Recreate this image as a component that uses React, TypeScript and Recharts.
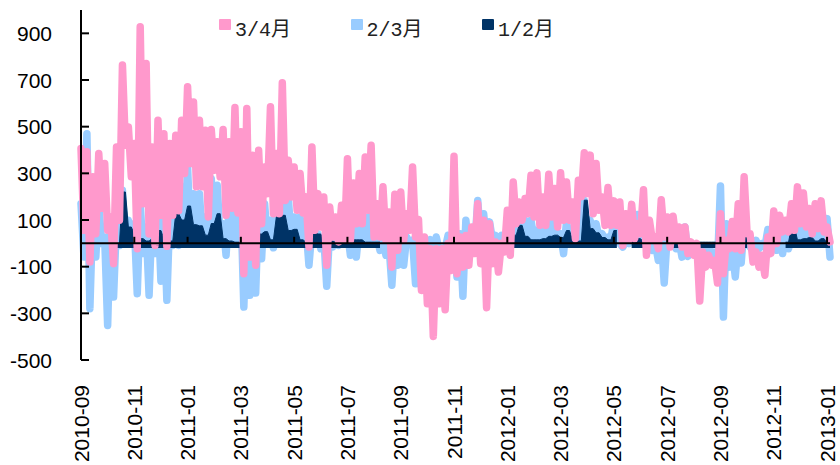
import React from 'react';
import { ComposedChart, Line, Area, XAxis, YAxis, ReferenceLine } from 'recharts';

const months = [
  '2010-09', '2010-11', '2011-01', '2011-03', '2011-05', '2011-07', '2011-09', '2011-11',
  '2012-01', '2012-03', '2012-05', '2012-07', '2012-09', '2012-11', '2013-01',
];
const yTicks = [-500, -300, -100, 100, 300, 500, 700, 900];

// each week: highest and lowest spread
const pinkHigh = [
  406, 392, 285, 385, 342, 113, 413, 764, 499, 428, 928, 771, 413, 528, 470, 428, 463, 528, 671, 606, 528, 485, 488, 435, 488, 435,
  582, 478, 578, 378, 399, 327, 585, 385, 688, 356, 327, 299, 199, 413, 213, 199, 156, 113, 163, 363,
  259, 299, 370, 420, 170, 242, 134, 210, 220, 127, 327, 102, 27, -23, -23, -23, 0, 373, 27, 34, 70, 170, 99, 84, 6, 0, 142,
  263, 177, 192, 292, 302, 199, 296, 235, 302, 263, 177, 270, 388, 378, 342, 199, 239, 182, 177, 127, 167, 84, 230, 99, 27, 187,
  113, 116, 70, 70, 6, 0, -37, -51, -73, 127, 13, 94, 170, 285, 41, -37, -51, 27, 139, 120, 99, 170, 242, 216, 149, 170, 182, 70,
];
const pinkLow = [
  56, -80, 41, 150, 56, -87, 99, 420, 285, -23, 170, 40, -9, 120, -13, 120, 140, 299, 342, 242, 242, 113, 313, 285, 120, 150,
  130, -130, -59, -94, 84, 213, 127, 127, 184, 199, 142, 130, -16, 56, 70, -94, 27, 6, 13, 13,
  84, 84, 142, 27, 27, 13, -102, -30, 13, 56, 27, -202, -259, -399, -259, -285, -116, -130, -102, -94, -44, -87, -276, -87, -123, -37, -51,
  84, 99, 127, 113, 77, 77, 113, 70, 99, 99, 20, 200, 213, 127, 142, 77, 77, 77, -9, 13, 20, 41, -51, 13, -23, 27,
  -16, 13, -16, -44, -51, -247, -102, -94, -170, -130, -23, -23, -30, 41, -80, -102, -137, -44, -1, 49, 49, 56, 84, 70, 41, 63, 49, 6,
];
const blueHigh = [
  170, 470, 142, 170, 27, 113, 99, 227, 99, 84, 170, 70, 113, 156, 142, 134, 270, 242, 327, 213, 213, 113, 277, 249, 84, 142,
  127, 170, 142, 113, 170, 170, 99, 170, 199, 199, 113, 113, 70, 56, 41, 27, 56, 27, 56, 56,
  56, 70, 113, 127, 27, 13, -1, 27, 56, 27, 13, -1, -16, 16, 27, -23, 34, 41, 41, 99, 56, 184, 127, 92, 34, 34, 56,
  84, 120, 99, 99, 56, 56, 92, 92, 41, 92, 49, 27, 184, 99, 84, 41, 27, 92, -1, 6, 27, 124, 41, 20, -1, 27,
  27, 6, 13, 70, -1, -4, -16, -19, -51, 246, 84, -23, 6, 84, -16, 13, -1, 59, 84, 56, 70, 41, 92, 70, 56, 56, 106, 106,
];
const blueLow = [
  -59, -280, -59, -1, -352, -230, -9, 20, 20, -216, -44, -223, -44, -162, -244, -9, -9, 20, 20, 20, 20, 20, 20, 20, -51, 13,
  13, -273, -223, -213, -66, 13, -19, 6, 20, 20, 13, 13, -94, 20, -23, -184, -16, -9, -4, -51,
  -59, -1, -1, 13, -30, -51, -180, -94, -94, -1, -173, -187, -30, -30, -30, -23, -59, -144, -227, -30, -16, 13, -1, 13, 13, -1, -1,
  13, 20, 20, 20, 20, 20, 20, 13, -44, 20, 20, 20, 20, 20, 20, 20, 20, 13, -16, -1, 13, 20, 6, -30, -73, -170,
  -9, -23, -59, -56, -30, -59, -44, -37, -94, -316, -102, -144, -84, -1, -30, -23, -16, -1, -30, -44, -23, 6, 6, 6, 6, 13, 6, -59,
];
const navy = [
  null, null, null, null, null, null, 0, 220, 70, 40, 20, 10, 20, 55, 20, 10, 127, 100, 160, 80, 75, 35, 85, 127, 20, 10,
  5, 5, 5, 10, 40, 50, 15, 115, 120, 55, 60, 15, 5, 50, 40, 5, 10, 5, 15, 20,
  15, 15, 5, 5, 5, null, null, null, null, null, null, null, null, null, null, null, null, null, null, null, null, null, null, null, null, null, 30,
  35, 77, 30, 15, 15, 20, 30, 35, 25, 55, 15, 10, 185, 63, 45, 25, 15, 55, null, null, 20, 20, 5, null, null, null,
  null, 5, 5, 5, 5, 5, 5, 5, 5, null, null, null, null, 125, null, null, null, null, null, null, 5, 70, 15, 20, 25, 10, 20, 5,
];

const legendItems = [
  { name: '3/4月', color: '#FF99CC' },
  { name: '2/3月', color: '#99CCFF' },
  { name: '1/2月', color: '#003366' },
];

const rows = pinkHigh.flatMap((_, k) => [
  { x: k * 2, pink: pinkHigh[k], blue: blueHigh[k], navy: navy[k] },
  { x: k * 2 + 1, pink: pinkLow[k], blue: blueLow[k], navy: navy[k] },
]);
const monthTicks = months.map((_, i) => i * 18);

const axisFont = { fontFamily: '"Liberation Sans", Arial, sans-serif', fontSize: 21, fill: '#000' };

const YTick = ({ x, y, payload }: any) => (
  <g>
    <line x1={x} x2={x + 8} y1={y} y2={y} stroke="#000" strokeWidth={2} />
    <text x={x - 29} y={y} textAnchor="end" dominantBaseline="central" {...axisFont}>{payload.value}</text>
  </g>
);

const XTick = ({ x, payload }: any) => (
  <text
    x={x}
    y={385}
    transform={`rotate(-90 ${x} 385)`}
    textAnchor="end"
    dominantBaseline="central"
    {...axisFont}
  >
    {months[payload.value / 18]}
  </text>
);

export default function App() {
  return (
    <div style={{ position: 'absolute', left: 0, top: 0, width: 840, height: 465, background: '#fff' }}>
      <ComposedChart width={840} height={465} data={rows} margin={{ top: 10, right: 10, bottom: 0, left: 0 }}>
        <XAxis
          type="number"
          dataKey="x"
          domain={[0, 253]}
          ticks={monthTicks}
          interval={0}
          height={105}
          axisLine={false}
          tickLine={false}
          tick={<XTick />}
        />
        <YAxis
          type="number"
          width={81}
          domain={[-500, 1000]}
          ticks={yTicks}
          interval={0}
          tickSize={0}
          tickMargin={0}
          axisLine={{ stroke: '#000', strokeWidth: 2 }}
          tickLine={false}
          tick={<YTick />}
        />
        <Line zIndex={400} dataKey="blue" stroke="#99CCFF" strokeWidth={7.5} strokeLinecap="round" strokeLinejoin="round" dot={false} isAnimationActive={false} />
        <Area zIndex={410} dataKey="navy" baseValue={-20} stroke="#003366" strokeWidth={1} fill="#003366" fillOpacity={1} dot={false} isAnimationActive={false} />
        <Line zIndex={420} dataKey="pink" stroke="#FF99CC" strokeWidth={7.5} strokeLinecap="round" strokeLinejoin="round" dot={false} isAnimationActive={false} />
        <ReferenceLine zIndex={430} y={0} stroke="#000" strokeWidth={2} />
        {monthTicks.map((t) => (
          <ReferenceLine zIndex={430} key={t} segment={[{ x: t, y: 0 }, { x: t, y: 28 }]} stroke="#000" strokeWidth={2} />
        ))}
      </ComposedChart>
      <div style={{ position: 'absolute', left: 219, top: 13, display: 'flex' }}>
        {legendItems.map((item) => (
          <div key={item.name} style={{ width: 131.5, display: 'flex', alignItems: 'center' }}>
            <span style={{ width: 12, height: 11, background: item.color, borderRadius: 1, marginRight: 4, marginTop: -6 }} />
            <span style={{ fontFamily: '"Liberation Mono", "Noto Sans CJK SC", monospace', fontSize: 20, color: '#222' }}>
              {item.name}
            </span>
          </div>
        ))}
      </div>
    </div>
  );
}
